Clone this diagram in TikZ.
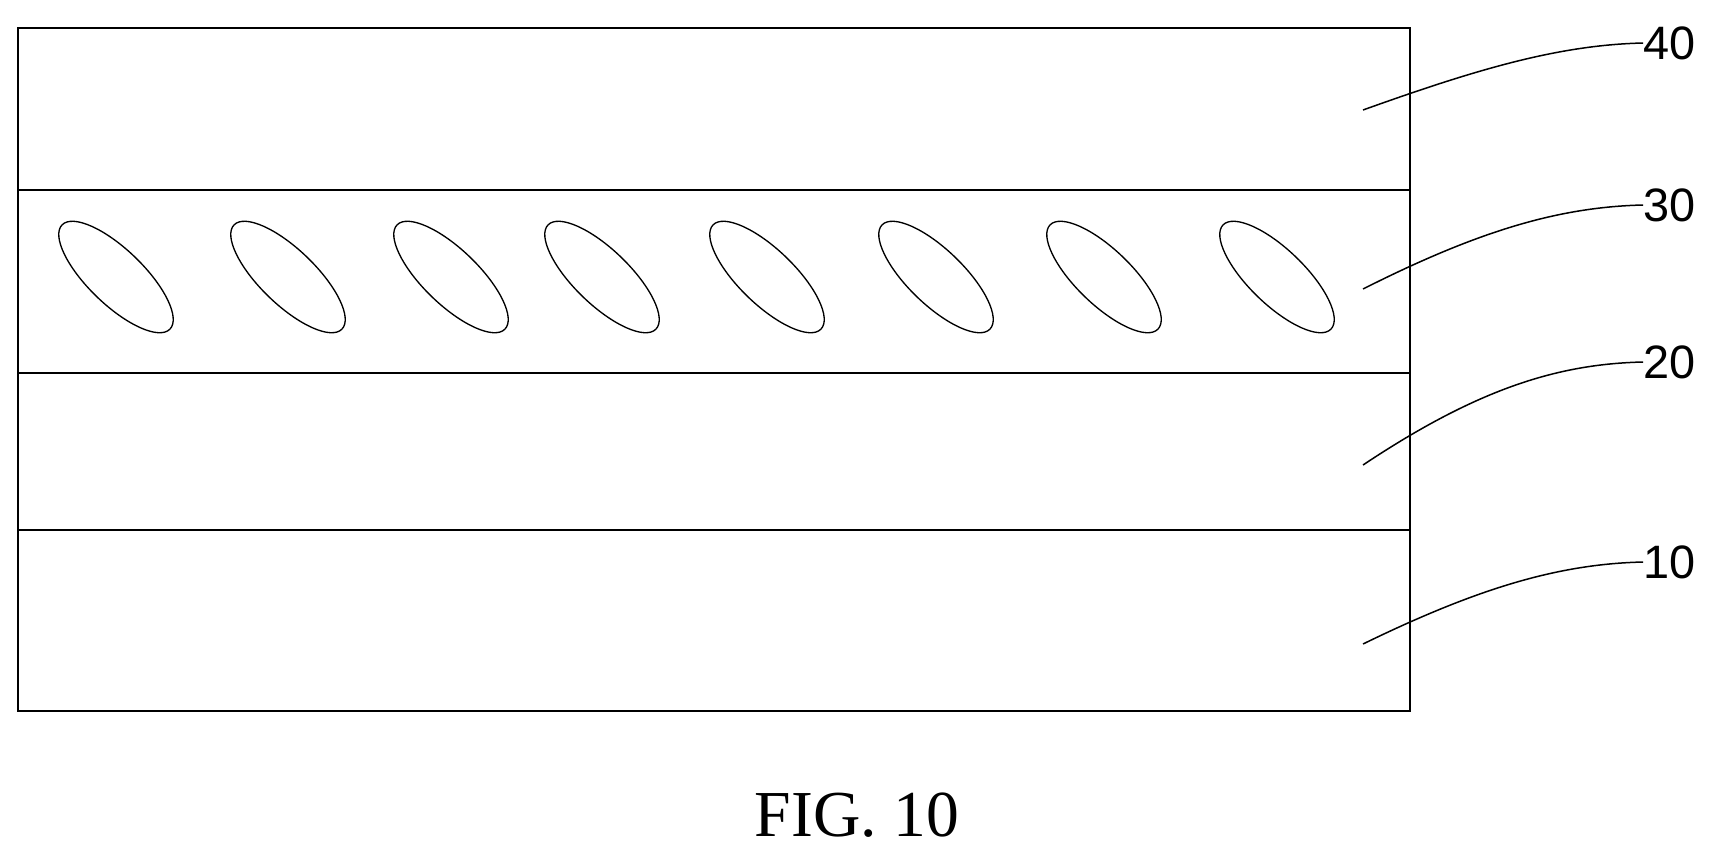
\documentclass[tikz,border=0pt]{standalone}
\usepackage{fontspec}
\setmainfont{Liberation Serif}
\newfontfamily\labelfont{Liberation Sans}
\usetikzlibrary{shapes.geometric}
\begin{document}
\begin{tikzpicture}[x=0.3mm,y=-0.3mm,
    layer/.style={draw,line width=0.75mm},
    lc/.style={ellipse,draw,line width=0.4mm,minimum width=45mm,minimum height=16.5mm,rotate=-44,inner sep=0pt},
    leader/.style={line width=0.45mm},
    reflabel/.style={font=\labelfont\fontsize{40}{46}\selectfont,inner sep=0pt,anchor=west}
  ]
  \useasboundingbox (0,0) rectangle (1715,848);
  \draw[layer] (18,28) rectangle (1410,711);
  \draw[layer] (18,190) -- (1410,190);
  \draw[layer] (18,373) -- (1410,373);
  \draw[layer] (18,530) -- (1410,530);
  % liquid crystal molecules
  \foreach \cx [count=\i] in {116,288,451,602,767,936,1104,1277}
    \node[lc] (m\i) at (\cx,277) {};
  % reference numerals
  \foreach \n/\ty/\ly in {40/43/110, 30/205/289, 20/362/465, 10/562/644} {
    \node[reflabel] (t\n) at (1643,\ty) {\n};
    \coordinate (p\n) at (1363,\ly);
    \draw[leader] (p\n) .. controls (1480,\ty+25) and (1560,\ty+2) .. (t\n.west);
  }
  \node[font=\fontsize{56}{64}\selectfont] (fig) at (857,815) {FIG. 10};
\end{tikzpicture}
\end{document}
